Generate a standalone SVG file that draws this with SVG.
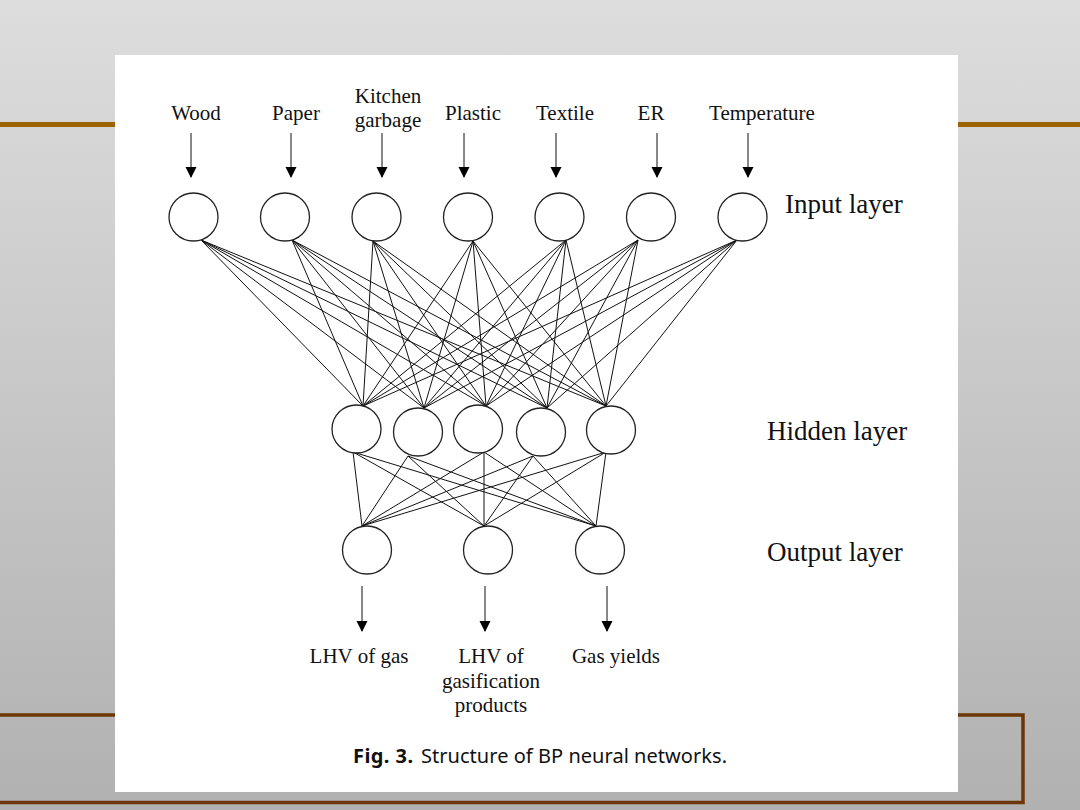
<svg xmlns="http://www.w3.org/2000/svg" width="1080" height="810" viewBox="0 0 1080 810">
<defs>
<linearGradient id="bg" x1="0" y1="0" x2="0" y2="1">
<stop offset="0" stop-color="#dddddd"/>
<stop offset="1" stop-color="#b1b1b1"/>
</linearGradient>
<marker id="ah" markerWidth="12" markerHeight="12" refX="10" refY="6" orient="auto" markerUnits="userSpaceOnUse">
<path d="M0,0.5 L11,6 L0,11.5 z" fill="#000"/>
</marker>
</defs>
<style>
.node{fill:#fff;stroke:#222;stroke-width:1.3}
.conn line{stroke:#111;stroke-width:1}
.arr{stroke:#000;stroke-width:1.4;marker-end:url(#ah)}
.lbl{font-family:"Liberation Serif","Times New Roman",serif;font-size:21px;fill:#111;text-anchor:middle}
.layer{font-family:"Liberation Serif","Times New Roman",serif;font-size:27px;fill:#111}
.cap{font-family:"Noto Sans","Open Sans",sans-serif;font-size:20px;fill:#111}
</style>
<rect x="0" y="0" width="1080" height="810" fill="url(#bg)"/>
<line x1="0" y1="124.5" x2="1080" y2="124.5" stroke="#9c6400" stroke-width="5"/>
<path d="M0,715 H1023 V802.5 H0" fill="none" stroke="#6b3706" stroke-width="3.5"/>
<rect x="115" y="55" width="843" height="737" fill="#fff"/>

<g id="connectors" class="conn">
<g id="in-hid">
<line x1="201" y1="240" x2="363" y2="406"/><line x1="201" y1="240" x2="424" y2="408"/><line x1="201" y1="240" x2="486" y2="406"/><line x1="201" y1="240" x2="547" y2="408"/><line x1="201" y1="240" x2="606" y2="406"/>
<line x1="292" y1="240" x2="363" y2="406"/><line x1="292" y1="240" x2="424" y2="408"/><line x1="292" y1="240" x2="486" y2="406"/><line x1="292" y1="240" x2="547" y2="408"/><line x1="292" y1="240" x2="606" y2="406"/>
<line x1="373" y1="241" x2="363" y2="406"/><line x1="373" y1="241" x2="424" y2="408"/><line x1="373" y1="241" x2="486" y2="406"/><line x1="373" y1="241" x2="547" y2="408"/><line x1="373" y1="241" x2="606" y2="406"/>
<line x1="473" y1="241" x2="363" y2="406"/><line x1="473" y1="241" x2="424" y2="408"/><line x1="473" y1="241" x2="486" y2="406"/><line x1="473" y1="241" x2="547" y2="408"/><line x1="473" y1="241" x2="606" y2="406"/>
<line x1="566" y1="240" x2="363" y2="406"/><line x1="566" y1="240" x2="424" y2="408"/><line x1="566" y1="240" x2="486" y2="406"/><line x1="566" y1="240" x2="547" y2="408"/><line x1="566" y1="240" x2="606" y2="406"/>
<line x1="638" y1="240" x2="363" y2="406"/><line x1="638" y1="240" x2="424" y2="408"/><line x1="638" y1="240" x2="486" y2="406"/><line x1="638" y1="240" x2="547" y2="408"/><line x1="638" y1="240" x2="606" y2="406"/>
<line x1="737" y1="240" x2="363" y2="406"/><line x1="737" y1="240" x2="424" y2="408"/><line x1="737" y1="240" x2="486" y2="406"/><line x1="737" y1="240" x2="547" y2="408"/><line x1="737" y1="240" x2="606" y2="406"/>
</g>
<g id="hid-out">
<line x1="353" y1="452" x2="362" y2="526"/><line x1="353" y1="452" x2="484" y2="526"/><line x1="353" y1="452" x2="596" y2="526"/>
<line x1="408" y1="456" x2="362" y2="526"/><line x1="408" y1="456" x2="484" y2="526"/><line x1="408" y1="456" x2="596" y2="526"/>
<line x1="484" y1="452" x2="362" y2="526"/><line x1="484" y1="452" x2="484" y2="526"/><line x1="484" y1="452" x2="596" y2="526"/>
<line x1="533" y1="456" x2="362" y2="526"/><line x1="533" y1="456" x2="484" y2="526"/><line x1="533" y1="456" x2="596" y2="526"/>
<line x1="606" y1="452" x2="362" y2="526"/><line x1="606" y1="452" x2="484" y2="526"/><line x1="606" y1="452" x2="596" y2="526"/>
</g>
<g id="in-arrows">
<line class="arr" x1="191" y1="133" x2="191" y2="177"/>
<line class="arr" x1="291" y1="133" x2="291" y2="177"/>
<line class="arr" x1="382" y1="133" x2="382" y2="177"/>
<line class="arr" x1="464" y1="133" x2="464" y2="177"/>
<line class="arr" x1="556" y1="133" x2="556" y2="177"/>
<line class="arr" x1="657" y1="133" x2="657" y2="177"/>
<line class="arr" x1="748" y1="133" x2="748" y2="177"/>
</g>
<g id="out-arrows">
<line class="arr" x1="362" y1="586" x2="362" y2="631"/>
<line class="arr" x1="485" y1="586" x2="485" y2="631"/>
<line class="arr" x1="607" y1="586" x2="607" y2="631"/>
</g>
</g>

<g id="input-wood"><ellipse class="node" cx="193.5" cy="217" rx="24.5" ry="24"/><text class="lbl" x="196" y="120">Wood</text></g>
<g id="input-paper"><ellipse class="node" cx="285" cy="217" rx="24.5" ry="24"/><text class="lbl" x="296" y="120">Paper</text></g>
<g id="input-kitchen"><ellipse class="node" cx="376.5" cy="217" rx="24.5" ry="24"/><text class="lbl" x="388" y="103">Kitchen</text><text class="lbl" x="388" y="127">garbage</text></g>
<g id="input-plastic"><ellipse class="node" cx="468" cy="217" rx="24.5" ry="24"/><text class="lbl" x="473" y="120">Plastic</text></g>
<g id="input-textile"><ellipse class="node" cx="559.5" cy="217" rx="24.5" ry="24"/><text class="lbl" x="565" y="120">Textile</text></g>
<g id="input-er"><ellipse class="node" cx="651" cy="217" rx="24.5" ry="24"/><text class="lbl" x="651" y="120">ER</text></g>
<g id="input-temperature"><ellipse class="node" cx="742.5" cy="217" rx="24.5" ry="24"/><text class="lbl" x="762" y="120">Temperature</text></g>

<g id="hidden-1"><ellipse class="node" cx="356.5" cy="429" rx="24.5" ry="24"/></g>
<g id="hidden-2"><ellipse class="node" cx="418" cy="432" rx="24.5" ry="24"/></g>
<g id="hidden-3"><ellipse class="node" cx="478" cy="429" rx="24.5" ry="24"/></g>
<g id="hidden-4"><ellipse class="node" cx="541" cy="432" rx="24.5" ry="24"/></g>
<g id="hidden-5"><ellipse class="node" cx="611" cy="430" rx="24.5" ry="24"/></g>

<g id="output-1"><ellipse class="node" cx="367" cy="550" rx="24.5" ry="24"/><text class="lbl" x="359" y="663">LHV of gas</text></g>
<g id="output-2"><ellipse class="node" cx="488" cy="550" rx="24.5" ry="24"/><text class="lbl" x="491" y="663">LHV of</text><text class="lbl" x="491" y="688">gasification</text><text class="lbl" x="491" y="712">products</text></g>
<g id="output-3"><ellipse class="node" cx="600" cy="550" rx="24.5" ry="24"/><text class="lbl" x="616" y="663">Gas yields</text></g>

<g id="layer-labels">
<text class="layer" x="785" y="213">Input layer</text>
<text class="layer" x="767" y="440">Hidden layer</text>
<text class="layer" x="767" y="561">Output layer</text>
</g>

<g id="caption">
<text class="cap" x="353" y="763"><tspan font-weight="bold" textLength="60">Fig. 3.</tspan><tspan x="421" textLength="306">Structure of BP neural networks.</tspan></text>
</g>
</svg>
